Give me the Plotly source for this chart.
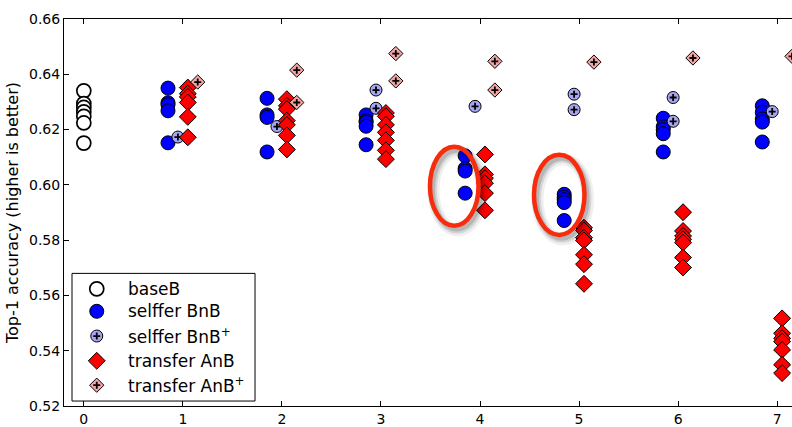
import plotly.graph_objects as go

# Layer at which the network is split (x axis)
layers = [0, 1, 2, 3, 4, 5, 6, 7]

# Top-1 accuracy of each run, grouped by layer
base_b = [0.6340, 0.6294, 0.6280, 0.6264, 0.6248, 0.6224, 0.6151]

selffer_bnb = {
    1: [0.6350, 0.6297, 0.6290, 0.6268, 0.6152],
    2: [0.6313, 0.6253, 0.6244, 0.6119],
    3: [0.6253, 0.6232, 0.6226, 0.6212, 0.6145],
    4: [0.6105, 0.6059, 0.6050, 0.5970],
    5: [0.5966, 0.5955, 0.5946, 0.5936, 0.5871],
    6: [0.6241, 0.6210, 0.6200, 0.6185, 0.6119],
    7: [0.6286, 0.6262, 0.6238, 0.6227, 0.6155],
}

selffer_bnb_plus = {
    1: [0.6173],
    2: [0.6211],
    3: [0.6343, 0.6277],
    4: [0.6284],
    5: [0.6328, 0.6272],
    6: [0.6316, 0.6230],
    7: [0.6265],
}

transfer_anb = {
    1: [0.6352, 0.6330, 0.6318, 0.6298, 0.6246, 0.6172],
    2: [0.6310, 0.6286, 0.6274, 0.6232, 0.6217, 0.6179, 0.6128],
    3: [0.6260, 0.6248, 0.6217, 0.6190, 0.6161, 0.6125, 0.6093],
    4: [0.6110, 0.6038, 0.6024, 0.6006, 0.5970, 0.5908],
    5: [0.5845, 0.5835, 0.5809, 0.5799, 0.5747, 0.5713, 0.5642],
    6: [0.5901, 0.5833, 0.5815, 0.5803, 0.5791, 0.5737, 0.5701],
    7: [0.5517, 0.5463, 0.5445, 0.5433, 0.5403, 0.5349, 0.5319],
}

transfer_anb_plus = {
    1: [0.6372],
    2: [0.6415, 0.6298],
    3: [0.6475, 0.6376],
    4: [0.6447, 0.6343],
    5: [0.6444],
    6: [0.6459],
    7: [0.6465],
}

y_ticks = [0.52, 0.54, 0.56, 0.58, 0.60, 0.62, 0.64, 0.66]

legend_labels = [
    "baseB",
    "selffer BnB",
    "selffer BnB<sup>+</sup>",
    "transfer AnB",
    "transfer AnB<sup>+</sup>",
]

# Horizontal offset of each series inside a layer group
OFFSETS = {"bnb": -0.15, "bnb_plus": -0.05, "anb": 0.05, "anb_plus": 0.15}


def flatten(groups, offset):
    xs, ys = [], []
    for layer, vals in groups.items():
        for v in vals:
            xs.append(layer + offset)
            ys.append(v)
    return xs, ys


STYLES = {
    "base": dict(symbol="circle", size=14, color="white",
                 line=dict(color="black", width=1.7)),
    "bnb": dict(symbol="circle", size=14, color="#0000ff",
                line=dict(color="black", width=1)),
    "bnb_plus": dict(symbol="circle", size=12, color="#a6a6f2",
                     line=dict(color="black", width=1)),
    "anb": dict(symbol="diamond", size=13, color="#ff0000",
                line=dict(color="black", width=1)),
    "anb_plus": dict(symbol="diamond", size=11, color="#f4a6a6",
                     line=dict(color="black", width=1)),
}
PLUS = dict(symbol="cross-thin", size=5, color="black",
            line=dict(color="black", width=1.8))

fig = go.Figure()


def add_series(xs, ys, style, plus=False, xaxis="x", yaxis="y"):
    fig.add_trace(go.Scatter(x=xs, y=ys, mode="markers", marker=style,
                             showlegend=False, hoverinfo="skip",
                             xaxis=xaxis, yaxis=yaxis))
    if plus:
        fig.add_trace(go.Scatter(x=xs, y=ys, mode="markers", marker=PLUS,
                                 showlegend=False, hoverinfo="skip",
                                 xaxis=xaxis, yaxis=yaxis))


add_series([0] * len(base_b), base_b, STYLES["base"])
add_series(*flatten(selffer_bnb, OFFSETS["bnb"]), STYLES["bnb"])
add_series(*flatten(selffer_bnb_plus, OFFSETS["bnb_plus"]), STYLES["bnb_plus"], plus=True)
add_series(*flatten(transfer_anb, OFFSETS["anb"]), STYLES["anb"])
add_series(*flatten(transfer_anb_plus, OFFSETS["anb_plus"]), STYLES["anb_plus"], plus=True)

# Highlight rings around the selffer drop at layers 4 and 5
rings = [
    dict(cx=3.74, cy=0.5995, rx=0.245, ry=0.0143),
    dict(cx=4.80, cy=0.5964, rx=0.255, ry=0.0145),
]
for r in rings:
    for w, op, dx, dy in [(12, 0.06, 0.035, -0.0016), (8, 0.10, 0.03, -0.0014),
                          (5, 0.14, 0.025, -0.0012)]:
        fig.add_shape(type="circle", xref="x", yref="y",
                      x0=r["cx"] - r["rx"] + dx, x1=r["cx"] + r["rx"] + dx,
                      y0=r["cy"] - r["ry"] + dy, y1=r["cy"] + r["ry"] + dy,
                      line=dict(color="black", width=w), opacity=op, layer="above")
    fig.add_shape(type="circle", xref="x", yref="y",
                  x0=r["cx"] - r["rx"], x1=r["cx"] + r["rx"],
                  y0=r["cy"] - r["ry"], y1=r["cy"] + r["ry"],
                  line=dict(color="#f82c0c", width=4.5), layer="above")

# Legend box, with its markers drawn on an overlay axis spanning the plot area
leg_x0, leg_x1, leg_y0, leg_y1 = 0.011, 0.2624, 0.0128, 0.3427
fig.add_shape(type="rect", xref="paper", yref="paper",
              x0=leg_x0, x1=leg_x1, y0=leg_y0, y1=leg_y1,
              line=dict(color="black", width=1), fillcolor="white", layer="below")
row_y = [0.3026, 0.2447, 0.1808, 0.1168, 0.0537]
marker_x = 0.0450
text_x = 0.0855
for key, yy in zip(["base", "bnb", "bnb_plus", "anb", "anb_plus"], row_y):
    add_series([marker_x], [yy], STYLES[key], plus=key.endswith("plus"),
               xaxis="x2", yaxis="y2")
for label, yy in zip(legend_labels, row_y):
    fig.add_annotation(x=text_x, y=yy, xref="paper", yref="paper", text=label,
                       showarrow=False, xanchor="left", yanchor="middle",
                       font=dict(family="DejaVu Sans", size=17, color="black"))

fig.update_layout(
    width=792, height=427,
    margin=dict(l=64, r=0, t=19, b=17),
    paper_bgcolor="white", plot_bgcolor="white",
    font=dict(family="DejaVu Sans", size=14, color="black"),
    showlegend=False,
    xaxis=dict(range=[-0.2, 7.15], tickmode="array", tickvals=layers,
               ticktext=[str(v) for v in layers],
               showgrid=False, zeroline=False, showline=True, linecolor="black",
               linewidth=1, mirror="ticks", ticks="inside", ticklen=5,
               tickcolor="black", tickfont=dict(size=14)),
    yaxis=dict(range=[0.52, 0.66], tickmode="array", tickvals=y_ticks,
               ticktext=[f"{v:.2f}" for v in y_ticks],
               showgrid=False, zeroline=False, showline=True, linecolor="black",
               linewidth=1, ticks="inside", ticklen=5, tickcolor="black",
               tickfont=dict(size=14),
               title=dict(text="Top-1 accuracy (higher is better)",
                          font=dict(size=16), standoff=6)),
    xaxis2=dict(range=[0, 1], overlaying="x", visible=False, anchor="y2"),
    yaxis2=dict(range=[0, 1], overlaying="y", visible=False, anchor="x2"),
)

fig.write_html("out.html")
